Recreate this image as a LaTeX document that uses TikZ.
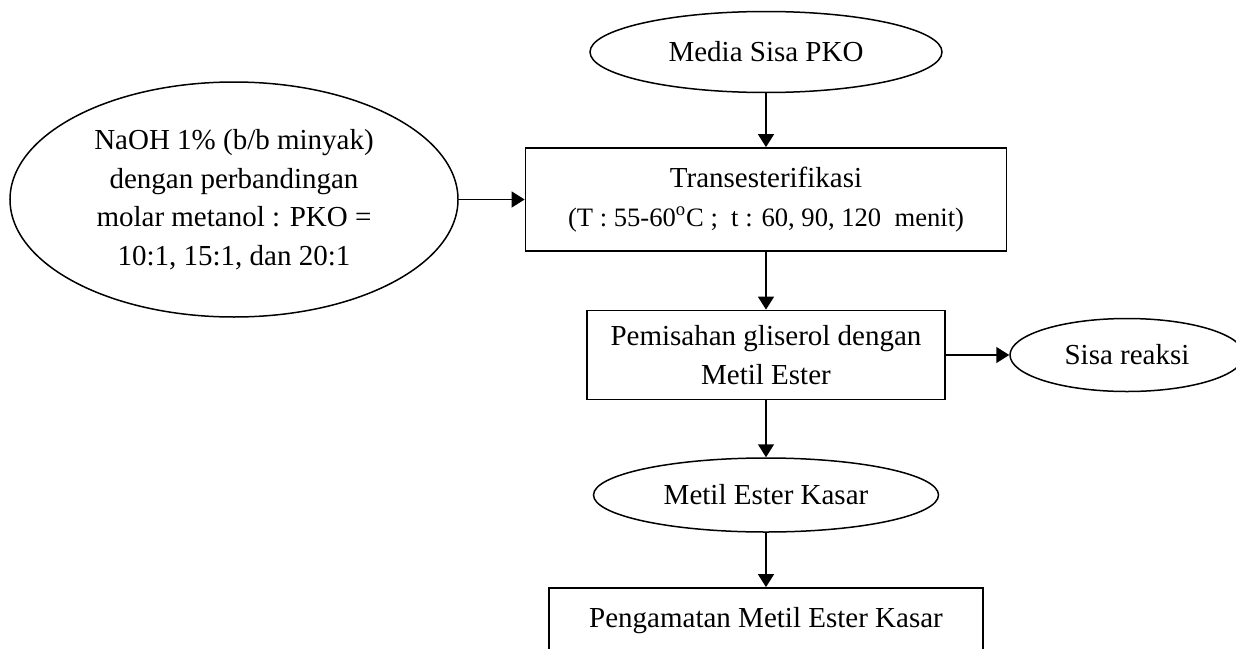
\documentclass[tikz,border=0pt]{standalone}
\usepackage{fontspec}
\setmainfont{Liberation Serif}
\usetikzlibrary{shapes.geometric,arrows.meta}
\begin{document}
\begin{tikzpicture}[x=0.5pt,y=-0.5pt,
  every node/.style={font=\fontsize{14.5}{19.3}\selectfont, align=center, inner sep=0pt},
  oval/.style={draw, ellipse, line width=0.75pt},
  procbox/.style={draw, rectangle, line width=0.9pt},
  flow/.style={-{Triangle[length=6.5pt,width=8pt]}, line width=0.75pt}]
\useasboundingbox (0,0) rectangle (1236,648);
\clip (0,0) rectangle (1236,648);
\node[oval, minimum width=176pt, minimum height=40.5pt] (media) at (766,52) {Media Sisa PKO};
\node[procbox, minimum width=240.5pt, minimum height=51.5pt] (trans) at (766,199.5)
  {Transesterifikasi\\{\fontsize{13.3}{19}\selectfont (T : 55-60\textsuperscript{o}C ;\ \ t : 60, 90, 120\ \ menit)}};
\node[oval, minimum width=224pt, minimum height=117.5pt] (naoh) at (234,199.5)
  {NaOH 1\% (b/b minyak)\\dengan perbandingan\\molar metanol : PKO =\\10:1, 15:1, dan 20:1};
\node[procbox, minimum width=179pt, minimum height=44.5pt] (pemisahan) at (766,355)
  {Pemisahan gliserol dengan\\Metil Ester};
\node[oval, minimum width=117pt, minimum height=36.5pt] (sisa) at (1127,355) {Sisa reaksi};
\node[oval, minimum width=172.5pt, minimum height=37pt] (metil) at (766,495) {Metil Ester Kasar};
\node[procbox, minimum width=217pt, minimum height=33pt] (pengamatan) at (766,621) {Pengamatan Metil Ester Kasar};
\draw[flow] (media) -- (trans);
\draw[flow] (naoh) -- (trans);
\draw[flow] (trans) -- (pemisahan);
\draw[flow] (pemisahan) -- (sisa);
\draw[flow] (pemisahan) -- (metil);
\draw[flow] (metil) -- (pengamatan);
\end{tikzpicture}
\end{document}
